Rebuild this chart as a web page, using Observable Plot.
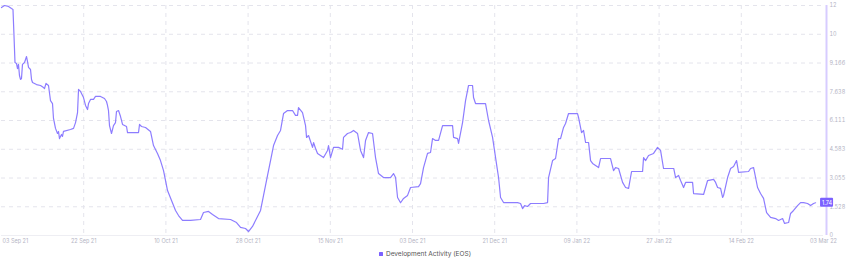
<!DOCTYPE html>
<html>
<head>
<meta charset="utf-8">
<script src="https://cdn.jsdelivr.net/npm/d3@7"></script>
<script src="https://cdn.jsdelivr.net/npm/@observablehq/plot@0.6"></script>
<style>
  html, body { margin: 0; padding: 0; background: #fff; }
  #chart svg { display: block; }
  .legend { height: 20px; display: flex; align-items: center; justify-content: center; font-family: Inter, "Noto Sans", sans-serif; font-size: 6.5px; color: #555; margin-top: -2px; }
  .legend .sw { width: 4px; height: 4px; background: #7b61ff; margin-right: 3px; border-radius: 0.5px; }
</style>
</head>
<body>
<div id="chart"></div>
<div class="legend"><span class="sw"></span><span>Development Activity (EOS)</span></div>
<script>
// ---- data ----
const startDate = "2021-09-03";
const endDate = "2022-03-03";
const dayOffsets = [0,0.66,1.54,2.20,2.53,2.75,2.97,3.30,3.52,3.74,3.96,4.18,4.40,4.62,5.07,5.51,5.73,5.95,6.39,6.61,6.83,7.71,8.59,9.25,9.47,9.80,10.35,10.79,11.23,11.45,11.89,12.33,12.55,12.77,13.21,13.43,13.65,15.19,15.86,16.30,16.74,16.96,17.40,18.06,18.50,18.94,19.16,19.60,20.26,20.70,21.80,22.68,23.12,23.34,23.56,23.78,24.22,24.66,25.10,25.32,25.77,26.21,26.65,27.53,27.75,30.17,30.39,30.83,31.71,32.81,33.47,34.35,35.01,35.68,36.56,37.44,38.32,38.98,39.86,41.62,43.82,44.48,45.59,46.47,47.79,50.43,51.75,52.63,53.73,54.39,55.27,56.15,57.04,57.70,58.58,59.24,59.90,60.78,61.44,62.10,62.98,64.08,64.74,65.18,65.40,66.28,66.95,67.17,67.61,68.49,68.71,69.15,69.59,70.91,71.79,72.01,72.45,73.11,74.21,75.09,75.31,76.19,76.86,77.52,78.40,79.06,79.72,80.16,80.82,81.70,82.36,83.02,84.12,85.66,86.32,86.77,87.21,87.87,88.53,89.41,90.07,91.83,92.27,92.93,93.81,94.47,94.91,95.57,96.24,97.12,99.32,99.54,100.42,100.64,101.52,102.18,102.84,103.72,103.94,104.38,106.58,107.25,108.13,108.79,109.45,109.89,110.55,113.63,114.29,114.74,115.18,115.84,116.49,119.36,120.24,120.46,121.34,122.00,122.66,123.10,123.76,124.20,124.86,126.84,127.06,127.73,128.17,128.61,129.27,129.71,130.15,130.81,131.47,131.91,134.11,134.77,135.21,135.88,136.76,137.42,138.08,138.74,141.16,141.38,141.82,142.48,143.58,144.46,145.12,145.78,148.02,148.43,149.09,149.53,150.19,150.63,152.17,152.39,154.59,155.48,156.80,157.24,157.68,158.34,158.78,159.00,159.88,160.54,161.20,161.86,162.30,164.50,164.94,165.60,165.82,166.48,167.14,167.80,168.47,169.35,170.45,171.11,171.99,172.43,173.31,173.75,174.41,175.29,175.95,176.61,177.49,178.15,178.81,179.25];
const activity = [12.11,12.22,12.17,12.06,12.01,10.63,9.19,9.14,8.87,9.09,8.50,8.29,8.34,9.09,9.19,9.51,9.24,8.93,8.82,8.29,8.13,8.02,7.97,7.86,7.81,8.08,7.97,7.17,7.01,6.22,5.69,5.42,5.53,5.15,5.37,5.26,5.53,5.63,5.69,6.00,6.53,7.76,7.65,7.33,6.91,6.69,7.01,7.23,7.23,7.39,7.39,7.28,7.12,6.91,6.64,5.84,5.42,5.84,6.00,6.59,6.64,6.32,5.90,5.79,5.47,5.47,5.90,5.79,5.74,5.53,4.78,4.36,3.98,3.45,2.39,1.86,1.33,1.06,0.80,0.80,0.85,1.22,1.28,1.12,0.90,0.85,0.69,0.43,0.37,0.21,0.48,0.90,1.33,2.13,3.19,3.98,4.78,5.31,5.58,6.48,6.64,6.64,6.38,6.38,6.80,6.53,5.84,5.21,5.31,4.68,4.94,4.62,4.36,4.14,4.52,4.78,4.14,4.68,4.68,4.58,5.21,5.42,5.47,5.58,5.42,4.52,4.14,5.05,5.47,5.42,4.14,3.29,3.08,3.08,3.29,3.08,2.02,1.74,1.97,2.13,2.55,2.60,2.76,3.61,4.36,4.41,5.15,5.05,5.05,5.84,5.84,5.21,5.15,4.89,6.00,7.17,7.97,7.97,7.33,7.01,7.01,6.11,5.21,4.14,3.08,2.02,1.75,1.75,1.70,1.43,1.59,1.54,1.70,1.70,1.75,3.08,3.98,4.09,5.15,5.15,5.74,5.95,6.48,6.48,6.27,5.47,5.58,4.94,4.94,3.98,3.83,3.72,3.61,4.09,4.09,3.45,3.61,3.56,2.82,2.55,2.50,3.40,3.40,4.14,3.98,4.25,4.36,4.68,4.52,3.56,3.56,3.08,3.19,2.92,2.55,2.82,2.82,2.23,2.18,2.92,2.98,2.82,2.55,2.50,2.02,2.13,3.08,3.56,3.67,3.98,3.35,3.40,3.56,3.61,3.35,2.55,2.23,1.97,1.22,0.96,0.90,0.80,0.90,0.64,0.69,1.17,1.33,1.59,1.75,1.75,1.70,1.59,1.70,1.74];
const yTickValues = [0,1.5275,3.055,4.5825,6.11,7.6375,9.165,10.6925,12.22];
const yTickLabels = ["0","1.528","3.055","4.583","6.111","7.638","9.166","10","12"];
const xTickLabels = ["03 Sep 21","22 Sep 21","10 Oct 21","28 Oct 21","15 Nov 21","03 Dec 21","21 Dec 21","09 Jan 22","27 Jan 22","14 Feb 22","03 Mar 22"];
const lastValueLabel = "1.74";

// ---- build table ----
const t0 = new Date(startDate + "T00:00:00Z");
const t1 = new Date(endDate + "T00:00:00Z");
const data = dayOffsets.map((d, i) => ({date: new Date(+t0 + d * 864e5), value: activity[i]}));
const xTicks = xTickLabels.map((_, i) => new Date(+t0 + (t1 - t0) * i / (xTickLabels.length - 1)));
const last = data[data.length - 1];

const purple = "#8d7dff";
const chart = Plot.plot({
  width: 850,
  height: 246,
  marginTop: 5,
  marginBottom: 11,
  marginLeft: 1,
  marginRight: 27,
  x: {type: "utc", domain: [t0, t1], axis: null},
  y: {domain: [0, 12.22], label: null},
  style: {fontFamily: "Inter, 'Noto Sans', sans-serif", fontSize: "5.5px", color: "#b4b4c4", background: "#fff", overflow: "visible"},
  marks: [
    Plot.gridY(yTickValues.slice(1), {stroke: "#e4e4ec", strokeOpacity: 1, strokeDasharray: "4,4"}),
    Plot.gridX(xTicks.slice(1, -1), {stroke: "#e4e4ec", strokeOpacity: 1, strokeDasharray: "4,4"}),
    Plot.ruleY([0], {stroke: "#eeeef3"}),
    Plot.line(data, {x: "date", y: "value", stroke: purple, strokeWidth: 1.2, curve: "linear"}),
    Plot.ruleX([t1], {y1: 0, y2: 12.22, stroke: "#d7ccff", strokeWidth: 2, dx: 3}),
    Plot.axisY(yTickValues, {anchor: "right", tickSize: 0, tickPadding: 6, label: null, tickFormat: (d, i) => yTickLabels[i]}),
    Plot.text([xTicks[0]], {x: d => d, frameAnchor: "bottom", dy: 7, textAnchor: "start", dx: 1, text: () => xTickLabels[0]}),
    Plot.text(xTicks.slice(1), {x: d => d, frameAnchor: "bottom", dy: 7, text: (d, i) => xTickLabels[i + 1]}),
    Plot.rect([last], {x1: "date", x2: "date", y1: "value", y2: "value", insetLeft: 5, insetRight: -18, insetTop: -4.5, insetBottom: -4.5, fill: "#7b61ff", rx: 1}),
    Plot.text([last], {x: "date", y: "value", dx: 11.5, text: () => lastValueLabel, fill: "#fff", fontSize: 5.5})
  ]
});
document.getElementById("chart").append(chart);
</script>
</body>
</html>
